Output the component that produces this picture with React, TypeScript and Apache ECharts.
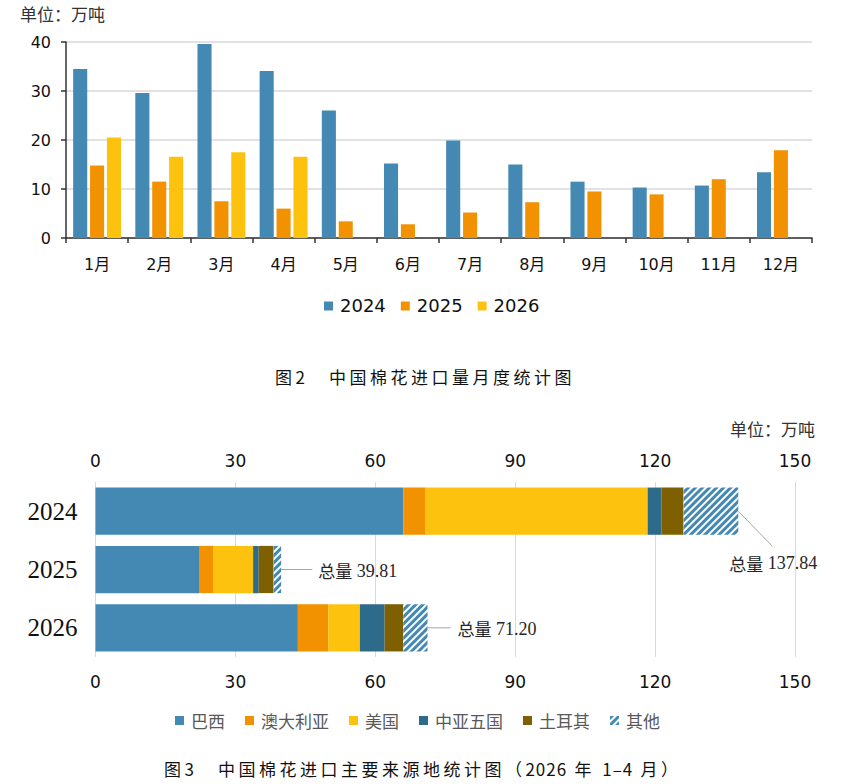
import React, { useEffect, useRef } from "react";
import * as echarts from "echarts";

// Monthly cotton imports (10k tonnes)
const months = ["1月", "2月", "3月", "4月", "5月", "6月", "7月", "8月", "9月", "10月", "11月", "12月"];
const years = ["2024", "2025", "2026"];
const imports2024 = [34.5, 29.6, 39.6, 34.1, 26.0, 15.2, 19.9, 15.0, 11.5, 10.3, 10.7, 13.4];
const imports2025 = [14.8, 11.5, 7.5, 6.0, 3.4, 2.8, 5.2, 7.3, 9.5, 8.9, 12.0, 17.9];
const imports2026 = [20.5, 16.6, 17.5, 16.6, null, null, null, null, null, null, null, null];

// Main source countries, January–April of each year (10k tonnes)
const sourceYears = ["2024", "2025", "2026"];
const sourceNames = ["巴西", "澳大利亚", "美国", "中亚五国", "土耳其", "其他"];
const brazil = [66.0, 22.2, 43.4];
const australia = [4.8, 3.0, 6.5];
const usa = [47.6, 8.6, 6.8];
const centralAsia = [3.0, 1.2, 5.3];
const turkey = [4.7, 3.2, 4.0];
const others = [11.74, 1.61, 5.2];
const totals = [137.84, 39.81, 71.2];

const BLUE = "#4389B3";
const ORANGE = "#F39200";
const YELLOW = "#FDC20E";
const DARK_BLUE = "#2E6A8A";
const OLIVE = "#7F6000";

const SANS = "'DejaVu Sans', 'Noto Sans CJK SC', sans-serif";
const CJK = "'Noto Sans CJK SC', sans-serif";

// Leader line / label offsets for the total callouts, per bar
const callouts = [
  { lineDx: 34, lineDy: 35, textDx: -9, textDy: 52 },
  { lineDx: 31, lineDy: 0, textDx: 37, textDy: 1 },
  { lineDx: 23, lineDy: 0, textDx: 30, textDy: 1 },
];

export default function App() {
  const ref = useRef<HTMLDivElement>(null);

  useEffect(() => {
    if (!ref.current) return;
    const chart = echarts.init(ref.current, null, { renderer: "svg" });

    const sourceSeries = [brazil, australia, usa, centralAsia, turkey, others].map((data, i) => {
      const base: any = {
        name: sourceNames[i],
        type: "bar",
        stack: "source",
        xAxisIndex: 1,
        yAxisIndex: 1,
        barCategoryGap: "19%",
        data,
      };
      if (i === 5) {
        base.itemStyle = {
          color: "#ffffff",
          decal: {
            symbol: "rect",
            symbolSize: 1,
            color: BLUE,
            backgroundColor: "#ffffff",
            dashArrayX: [1, 0],
            dashArrayY: [3, 2],
            rotation: -Math.PI / 4,
          },
        };
      } else {
        base.itemStyle = { color: [BLUE, ORANGE, YELLOW, DARK_BLUE, OLIVE][i] };
      }
      return base;
    });

    const valueAxisLabel = {
      fontSize: 17,
      fontFamily: SANS,
      color: "#111",
    };

    chart.setOption({
      animation: false,
      grid: [
        { left: 66, top: 42, width: 746, height: 196 },
        { left: 95.5, top: 482, width: 699.5, height: 175 },
      ],
      legend: [
        {
          data: years,
          left: 324,
          top: 297,
          padding: 0,
          icon: "rect",
          itemWidth: 9,
          itemHeight: 9,
          itemGap: 15,
          textStyle: { fontSize: 18, fontFamily: SANS, color: "#111", padding: [0, 0, 0, 2] },
        },
        {
          data: sourceNames,
          left: 175,
          top: 712,
          padding: 0,
          icon: "rect",
          itemWidth: 9,
          itemHeight: 9,
          itemGap: 20,
          textStyle: { fontSize: 17, fontFamily: CJK, color: "#595959", padding: [0, 0, 0, 2] },
        },
      ],
      xAxis: [
        {
          gridIndex: 0,
          type: "category",
          data: months,
          axisLine: { lineStyle: { color: "#333", width: 1.5 } },
          axisTick: { show: true, length: 5, lineStyle: { color: "#333", width: 1.5 } },
          axisLabel: { margin: 18, fontSize: 16, fontFamily: SANS, color: "#111" },
          splitLine: { show: false },
        },
        {
          gridIndex: 1,
          type: "value",
          position: "top",
          min: 0,
          max: 150,
          interval: 30,
          axisLine: { show: false },
          axisTick: { show: false },
          splitLine: { show: true, lineStyle: { color: "#D9D9D9", width: 1 } },
          axisLabel: { ...valueAxisLabel, margin: 13 },
        },
        {
          gridIndex: 1,
          type: "value",
          position: "bottom",
          min: 0,
          max: 150,
          interval: 30,
          axisLine: { show: false },
          axisTick: { show: false },
          splitLine: { show: false },
          axisLabel: { ...valueAxisLabel, margin: 16 },
        },
      ],
      yAxis: [
        {
          gridIndex: 0,
          type: "value",
          min: 0,
          max: 40,
          interval: 10,
          axisLine: { show: true, lineStyle: { color: "#333", width: 1.5 } },
          axisTick: { show: true, length: 5, lineStyle: { color: "#333", width: 1.5 } },
          splitLine: { show: true, lineStyle: { color: "#D9D9D9", width: 1.5 } },
          axisLabel: { margin: 15, fontSize: 16, fontFamily: SANS, color: "#111" },
        },
        {
          gridIndex: 1,
          type: "category",
          data: sourceYears,
          inverse: true,
          axisLine: { show: false },
          axisTick: { show: false },
          axisLabel: { margin: 18, fontSize: 25, fontFamily: "'Liberation Serif', serif", color: "#111" },
        },
      ],
      series: [
        {
          name: "2024",
          type: "bar",
          xAxisIndex: 0,
          yAxisIndex: 0,
          barGap: "20%",
          barCategoryGap: "23%",
          itemStyle: { color: BLUE },
          data: imports2024,
        },
        {
          name: "2025",
          type: "bar",
          xAxisIndex: 0,
          yAxisIndex: 0,
          barGap: "20%",
          barCategoryGap: "23%",
          itemStyle: { color: ORANGE },
          data: imports2025,
        },
        {
          name: "2026",
          type: "bar",
          xAxisIndex: 0,
          yAxisIndex: 0,
          barGap: "20%",
          barCategoryGap: "23%",
          itemStyle: { color: YELLOW },
          data: imports2026,
        },
        ...sourceSeries,
      ],
    });

    // Unit notes and total callouts, placed through the bottom chart's axes
    const graphics: any[] = [
      {
        id: "unit-top",
        type: "text",
        left: 20,
        top: 5,
        style: { text: "单位：万吨", fontSize: 17, fontFamily: CJK, fill: "#333" },
      },
      {
        id: "unit-bottom",
        type: "text",
        right: 50,
        top: 420,
        style: { text: "单位：万吨", fontSize: 17, fontFamily: CJK, fill: "#333" },
      },
    ];

    totals.forEach((total, i) => {
      const [px, py] = chart.convertToPixel({ xAxisIndex: 1, yAxisIndex: 1 }, [total, i]) as number[];
      const c = callouts[i];
      graphics.push({
        id: `callout-line-${i}`,
        type: "line",
        shape: { x1: px, y1: py, x2: px + c.lineDx, y2: py + c.lineDy },
        style: { stroke: "#A6A6A6", lineWidth: 1 },
        silent: true,
      });
      graphics.push({
        id: `callout-text-${i}`,
        type: "text",
        x: px + c.textDx,
        y: py + c.textDy,
        style: {
          text: `{a|总量}{b| ${total.toFixed(2)}}`,
          verticalAlign: "middle",
          align: "left",
          rich: {
            a: { fontSize: 17, fontFamily: CJK, fill: "#262626", color: "#262626" },
            b: { fontSize: 18, fontFamily: "'Liberation Serif', serif", fill: "#262626", color: "#262626" },
          },
        },
      });
    });

    chart.setOption({ graphic: graphics });

    return () => chart.dispose();
  }, []);

  const captionStyle: React.CSSProperties = {
    position: "absolute",
    fontFamily: "'Noto Sans CJK SC', sans-serif",
    fontSize: 17,
    lineHeight: "20px",
    letterSpacing: "3.5px",
    color: "#111",
    whiteSpace: "pre",
  };
  const digits: React.CSSProperties = { letterSpacing: "1px" };

  return (
    <div style={{ position: "absolute", left: 0, top: 0, width: 865, height: 784, background: "#fff" }}>
      <div ref={ref} style={{ position: "absolute", left: 0, top: 0, width: 865, height: 784 }} />
      <div style={{ ...captionStyle, left: 275, top: 367 }}>图2　中国棉花进口量月度统计图</div>
      <div style={{ ...captionStyle, left: 164, top: 759 }}>
        图3　中国棉花进口主要来源地统计图（<span style={digits}>2026</span> 年 <span style={digits}>1–4</span> 月）
      </div>
    </div>
  );
}
